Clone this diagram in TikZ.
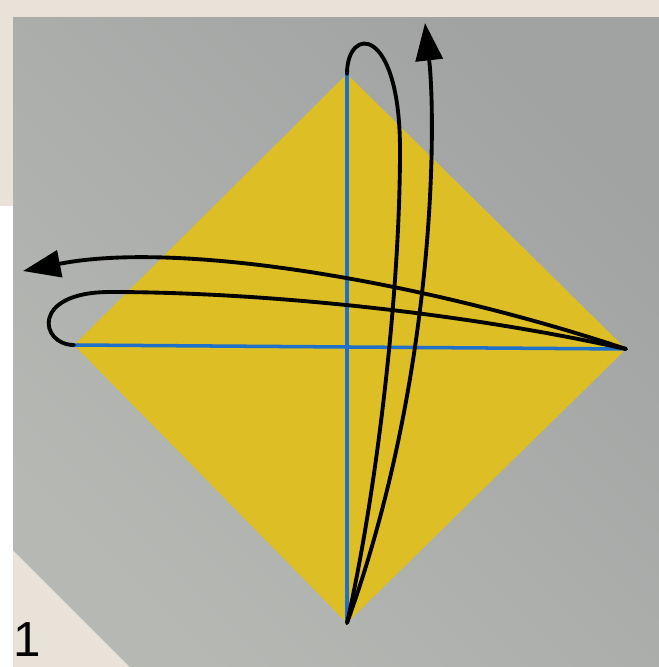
\documentclass[tikz,border=0pt]{standalone}
\usepackage{fontspec}
\setsansfont{Liberation Sans}
\usetikzlibrary{arrows.meta}

\definecolor{wallbeige}{RGB}{233,226,216}
\definecolor{boardlight}{RGB}{182,184,180}
\definecolor{boarddark}{RGB}{160,163,162}
\definecolor{sheet}{RGB}{221,190,36}
\definecolor{crease}{RGB}{30,112,200}

\begin{document}
\begin{tikzpicture}[
    x=0.02cm, y=-0.02cm,
    backdrop/.style={top color=boarddark, middle color=boardlight, bottom color=boardlight, shading angle=-45},
    paper/.style={fill=sheet},
    creaseline/.style={draw=crease, line width=2pt},
    foldline/.style={draw=black, line width=2.2pt, line cap=round},
    foldarrow/.style={foldline, -{Triangle[length=0.75cm, width=0.54cm]}},
    stepnum/.style={font=\sffamily\fontsize{28}{28}\selectfont, inner sep=0pt, anchor=north west}
]
\clip (0,0) rectangle (659,667);
\fill[wallbeige] (0,0) rectangle (659,667);
\fill[white] (0,206) rectangle (13,667);
\shade[backdrop] (13,17) -- (659,17) -- (659,667) -- (130,667) -- (13,550) -- cycle;

% corners of the square sheet
\coordinate (top) at (347,74);
\coordinate (right) at (626,349);
\coordinate (bottom) at (347,623);
\coordinate (left) at (74,345);
% arrow tips
\coordinate (vtip) at (425,23);
\coordinate (htip) at (23,271);

\fill[paper] (top) -- (right) -- (bottom) -- (left) -- cycle;
\draw[creaseline] (top) -- (bottom);
\draw[creaseline] (left) -- (right);

% fold bottom to top
\draw[foldline] (top) .. controls (347,25) and (400,25) .. (400,150)
    .. controls (400,300) and (375,500) .. (bottom);
\draw[foldarrow] (bottom) .. controls (437,374) and (436,120) .. (vtip);

% fold right to left
\draw[foldline] (right) .. controls (450,310) and (250,292) .. (110,292)
    .. controls (30,292) and (40,345) .. (left);
\draw[foldarrow] (right) .. controls (425,282) and (180,240) .. (htip);

\node[stepnum] (num) at (13,622) {1};
\end{tikzpicture}
\end{document}
